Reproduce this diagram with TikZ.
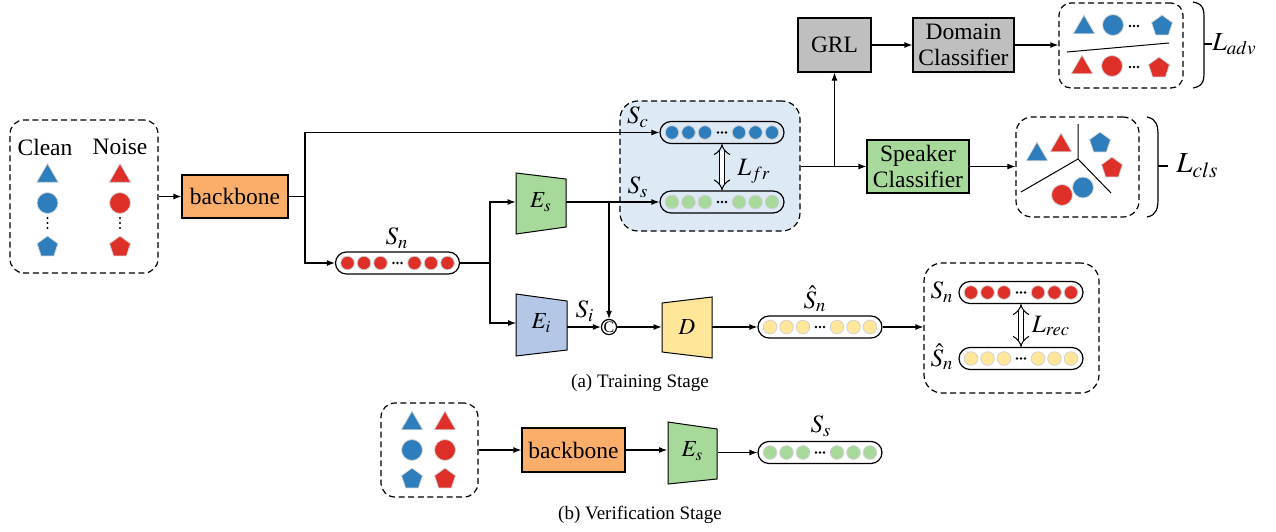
\documentclass[tikz,border=0pt]{standalone}
\usepackage{mathptmx}
\usepackage{fontspec}
\setmainfont{Liberation Serif}
\usetikzlibrary{shapes.geometric,arrows.meta,calc}
\definecolor{cblue}{RGB}{46,126,189}
\definecolor{cred}{RGB}{222,47,41}
\definecolor{cgreen}{RGB}{166,217,154}
\definecolor{cyellow}{RGB}{255,230,153}
\definecolor{corange}{RGB}{251,174,106}
\definecolor{cgray}{RGB}{191,191,191}
\definecolor{cboxblue}{RGB}{221,233,245}
\definecolor{cEi}{RGB}{180,199,231}
\newcommand{\fmain}{\fontsize{11.75}{14}\selectfont}
\newcommand{\fcap}{\fontsize{9.5}{11}\selectfont}
\newcommand{\fmath}{\fontsize{12.5}{14}\selectfont}
\newcommand{\fenc}{\fontsize{11.5}{13}\selectfont}
\tikzset{
 ln/.style={line width=0.6pt},
 conn/.style={line width=0.6pt, -{Latex[length=4pt,width=3pt]}},
 dbl/.style={double, double distance=2.4pt, line width=0.5pt, {Implies}-{Implies}},
 blk/.style={draw, line width=0.6pt, align=center, inner sep=0pt, font=\fmain},
 dbox/.style={draw, line width=0.6pt, dash pattern=on 3pt off 1.8pt, rounded corners=7pt, inner sep=0pt},
 fbar/.style={draw, line width=0.6pt, rounded corners=5.5pt, minimum width=62pt, minimum height=11pt, inner sep=0pt},
 trap/.style={draw, line width=0.5pt},
 lbl/.style={font=\fmath, inner sep=0pt},
 captxt/.style={font=\fcap, inner sep=0pt},
 shtri/.style={regular polygon, regular polygon sides=3, minimum size=12.5pt, inner sep=0pt, draw=black!15, line width=0.4pt},
 shcirc/.style={circle, minimum size=10.5pt, inner sep=0pt, draw=black!15, line width=0.4pt},
 shpent/.style={regular polygon, regular polygon sides=5, minimum size=11pt, inner sep=0pt, draw=black!15, line width=0.4pt},
 hole/.style={inner sep=0pt, minimum width=25pt, minimum height=24pt, font=\fenc}
}
\newcommand{\featbar}[4]{%
 \node[fbar] (#1) at (#2,#3) {};
 \foreach \o in {-50,-33.5,-17,17,33.5,50}{\filldraw[draw=black!18, fill=#4, line width=0.4pt] ({#2+\o},#3) circle[radius=3.4pt];}
 \foreach \o in {-4,0,4}{\fill ({#2+\o},#3) circle[radius=0.65pt];}
}
\begin{document}
\begin{tikzpicture}[x=0.5pt,y=-0.5pt]
\useasboundingbox (0,0) rectangle (1276,531);

% ---------- training input
\node[dbox, minimum width=74pt, minimum height=76.5pt] (inbox) at (84,196.5) {};
\node[font=\fmain, inner sep=0pt] (tclean) at (45,147) {Clean};
\node[font=\fmain, inner sep=0pt] (tnoise) at (120,147) {Noise};
\node[shtri, fill=cblue] (ib1) at (47.5,176) {};
\node[shtri, fill=cred] (ir1) at (120,176) {};
\node[shcirc, fill=cblue] (ib2) at (47.5,203) {};
\node[shcirc, fill=cred] (ir2) at (120,203) {};
\foreach \yy in {218,223,228}{\fill (47.5,\yy) circle[radius=0.6pt]; \fill (120,\yy) circle[radius=0.6pt];}
\node[shpent, fill=cblue] (ib3) at (47.5,247) {};
\node[shpent, fill=cred] (ir3) at (120,247) {};

\node[blk, fill=corange, minimum width=53pt, minimum height=21.5pt] (bb1) at (235,196.5) {backbone};
\draw[conn] (inbox) -- (bb1);

% ---------- shaded feature box
\node[dbox, fill=cboxblue, minimum width=90pt, minimum height=65pt, rounded corners=9pt] (fr) at (710,166) {};
\featbar{sc}{722}{132.5}{cblue}
\featbar{ss}{722}{202}{cgreen}
\node[lbl] (lsc) at (638,117) {$S_c$};
\node[lbl] (lss) at (638,187) {$S_s$};
\draw[dbl] (sc.south) -- (ss.north);
\node[lbl] (lfr) at (754,171) {$L_{fr}$};

% ---------- Sn
\featbar{sn}{397.5}{263}{cred}
\node[lbl] (lsn) at (397,238) {$S_n$};
\coordinate (sp1) at (305,196.5);
\draw[ln] (bb1.east) -- (sp1);
\draw[conn] (sp1) |- (sc.west);
\draw[conn] (sp1) |- (sn.west);

% ---------- encoders
\filldraw[trap, fill=cgreen] (516,173) -- (566,179) -- (566,227) -- (516,234) -- cycle;
\node[hole] (es) at (541,202) {$E_s$};
\filldraw[trap, fill=cEi] (516,294) -- (567,301) -- (567,350) -- (516,356) -- cycle;
\node[hole] (ei) at (541.5,323) {$E_i$};
\coordinate (sp2) at (490,263);
\draw[ln] (sn.east) -- (sp2);
\draw[conn] (sp2) |- (es.west);
\draw[conn] (sp2) |- (ei.west);
\draw[conn] (es.east) -- (ss.west);

\node[circle, draw, line width=0.6pt, minimum size=7.5pt, inner sep=0pt, font=\fontsize{8}{8}\selectfont] (cat) at (609,327) {C};
\coordinate (sp3) at (609,202);
\draw[conn] (sp3) -- (cat.north);
\draw[conn] ([yshift=-2pt]ei.east) -- (cat.west);
\node[lbl] (lsi) at (585,311) {$S_i$};

\filldraw[trap, fill=cyellow] (662,303) -- (712,297) -- (712,358) -- (662,352) -- cycle;
\node[hole] (dd) at (687,327) {$D$};
\draw[conn] (cat) -- (dd.west);
\featbar{shn}{820}{327}{cyellow}
\node[lbl] (lshn) at (815,299) {$\hat{S}_n$};
\draw[conn] (dd.east) -- (shn.west);

% ---------- reconstruction box
\node[dbox, minimum width=87.5pt, minimum height=65pt, rounded corners=9pt] (rec) at (1011.5,328) {};
\featbar{rsn}{1021}{292.5}{cred}
\featbar{rshn}{1021}{358.5}{cyellow}
\node[lbl] (lrsn) at (942,292) {$S_n$};
\node[lbl] (lrshn) at (942,357) {$\hat{S}_n$};
\draw[dbl] (rsn.south) -- (rshn.north);
\node[lbl] (lrec) at (1051,326) {$L_{rec}$};
\draw[conn] (shn.east) -- (shn.east -| rec.west);

\node[captxt] (capa) at (640,383) {(a) Training Stage};

% ---------- GRL / classifiers
\node[blk, fill=cgray, minimum width=36.5pt, minimum height=27pt] (grl) at (834.5,45) {GRL};
\node[blk, fill=cgray, minimum width=50.5pt, minimum height=27pt] (dom) at (963.5,45) {Domain\\[-1pt]Classifier};
\node[blk, fill=cgreen, minimum width=51pt, minimum height=26.5pt] (spk) at (918,166.5) {Speaker\\[-1pt]Classifier};
\coordinate (sp4) at (834.5,166.5);
\draw[ln] (fr.east |- sp4) -- (sp4);
\draw[conn] (sp4) -- (grl.south);
\draw[conn] (sp4) -- (spk.west);
\draw[conn] (grl) -- (dom);

% adversarial box
\node[dbox, minimum width=62pt, minimum height=42.5pt, rounded corners=6pt] (adv) at (1121,45.5) {};
\draw[conn] (dom) -- (dom -| adv.west);
\node[shtri, fill=cblue] (a1) at (1084,27.5) {};
\node[shcirc, fill=cblue] (a2) at (1113,25) {};
\foreach \o in {-4,0,4}{\fill ({1134+\o},26) circle[radius=0.65pt];}
\node[shpent, fill=cblue] (a3) at (1162,26) {};
\node[shtri, fill=cred] (a4) at (1082,67.5) {};
\node[shcirc, fill=cred] (a5) at (1112,66) {};
\foreach \o in {-4,0,4}{\fill ({1134+\o},67) circle[radius=0.65pt];}
\node[shpent, fill=cred] (a6) at (1159,68) {};
\draw[line width=0.5pt] (1067,52) -- (1169,43);
\draw[line width=0.6pt] (1193,2) .. controls (1204,4) and (1204,10) .. (1204,20) -- (1204,70) .. controls (1204,80) and (1204,86) .. (1193,88);
\coordinate (advt) at (1212,44);
\draw[line width=0.6pt] (1204,44) -- (advt);
\node[font=\fontsize{13}{15}\selectfont, inner sep=0pt, anchor=west] (ladv) at (advt) {$L_{adv}$};

% classification box
\node[dbox, minimum width=61.5pt, minimum height=50pt, rounded corners=8pt] (cls) at (1077.5,167) {};
\draw[conn] (spk) -- (spk -| cls.west);
\draw[line width=0.5pt] (1078,124) -- (1078,159) -- (1021,192);
\draw[line width=0.5pt] (1078,159) -- (1111,193);
\node[shtri, fill=cblue] (c1) at (1037,154.5) {};
\node[shtri, fill=cred] (c2) at (1061,145.5) {};
\node[shpent, fill=cblue] (c3) at (1100,143) {};
\node[shpent, fill=cred] (c4) at (1112,168) {};
\node[shcirc, fill=cred] (c5) at (1062,195) {};
\node[shcirc, fill=cblue] (c6) at (1083,187.5) {};
\draw[line width=0.6pt] (1147,117) .. controls (1157,119) and (1158,126) .. (1158,136) -- (1158,198) .. controls (1158,208) and (1157,215) .. (1147,217);
\coordinate (clst) at (1168,166);
\draw[line width=0.6pt] (1158,166) -- (clst);
\node[font=\fontsize{14.5}{16}\selectfont, inner sep=0pt, anchor=west] (lcls) at ([xshift=4pt]clst) {$L_{cls}$};

% ---------- verification stage
\node[dbox, minimum width=48.5pt, minimum height=47pt] (vin) at (429.5,450) {};
\node[shtri, fill=cblue] (v1) at (412,423.5) {};
\node[shtri, fill=cred] (v2) at (445,423.5) {};
\node[shcirc, fill=cblue] (v3) at (412,450) {};
\node[shcirc, fill=cred] (v4) at (445,450) {};
\node[shpent, fill=cblue] (v5) at (412,479) {};
\node[shpent, fill=cred] (v6) at (445,479) {};
\node[blk, fill=corange, minimum width=51.5pt, minimum height=22pt] (bb2) at (573.5,450) {backbone};
\draw[conn] (vin) -- (bb2);
\filldraw[trap, fill=cgreen] (668,422) -- (717,429) -- (717,479) -- (668,484) -- cycle;
\node[hole] (es2) at (692.5,451) {$E_s$};
\draw[conn] (bb2.east) -- (bb2.east -| es2.west);
\featbar{vss}{820}{452.5}{cgreen}
\node[lbl] (lvss) at (821,426) {$S_s$};
\draw[conn] (es2.east |- vss) -- (vss.west);

\node[captxt] (capb) at (640,515) {(b) Verification Stage};
\end{tikzpicture}
\end{document}
